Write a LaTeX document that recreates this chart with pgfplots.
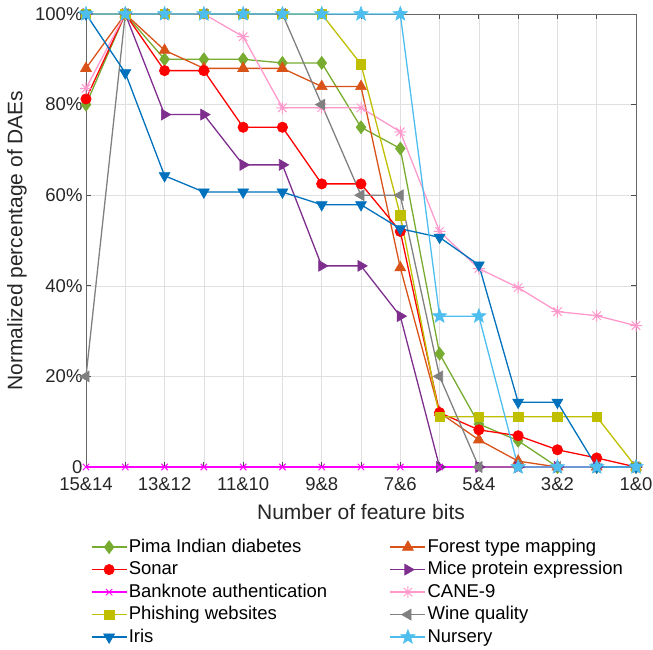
\documentclass[border=0pt]{standalone}
\usepackage{pgfplots}
\pgfplotsset{compat=1.18}
\usepackage{fontspec}
\setmainfont{Liberation Sans}
\usetikzlibrary{plotmarks}
\definecolor{cpima}{HTML}{77AC30}
\definecolor{cforest}{HTML}{D95319}
\definecolor{csonar}{HTML}{FF0000}
\definecolor{cmice}{HTML}{7E2F8E}
\definecolor{cbank}{HTML}{FF00FF}
\definecolor{ccane}{HTML}{FF99CC}
\definecolor{cphish}{HTML}{BFBF00}
\definecolor{cwine}{HTML}{808080}
\definecolor{ciris}{HTML}{0072BD}
\definecolor{cnurs}{HTML}{4DBEEE}
\pgfdeclareplotmark{pentastar}{%
  \pgfpathmoveto{\pgfqpointpolar{90}{\pgfplotmarksize}}%
  \pgfpathlineto{\pgfqpointpolar{126}{0.42\pgfplotmarksize}}%
  \pgfpathlineto{\pgfqpointpolar{162}{\pgfplotmarksize}}%
  \pgfpathlineto{\pgfqpointpolar{198}{0.42\pgfplotmarksize}}%
  \pgfpathlineto{\pgfqpointpolar{234}{\pgfplotmarksize}}%
  \pgfpathlineto{\pgfqpointpolar{270}{0.42\pgfplotmarksize}}%
  \pgfpathlineto{\pgfqpointpolar{306}{\pgfplotmarksize}}%
  \pgfpathlineto{\pgfqpointpolar{342}{0.42\pgfplotmarksize}}%
  \pgfpathlineto{\pgfqpointpolar{18}{\pgfplotmarksize}}%
  \pgfpathlineto{\pgfqpointpolar{54}{0.42\pgfplotmarksize}}%
  \pgfpathclose
  \pgfusepathqfillstroke}
\pgfdeclareplotmark{aster8}{%
  \pgfpathmoveto{\pgfqpoint{-\pgfplotmarksize}{0pt}}%
  \pgfpathlineto{\pgfqpoint{\pgfplotmarksize}{0pt}}%
  \pgfpathmoveto{\pgfqpoint{0pt}{-\pgfplotmarksize}}%
  \pgfpathlineto{\pgfqpoint{0pt}{\pgfplotmarksize}}%
  \pgfpathmoveto{\pgfqpoint{-0.707\pgfplotmarksize}{-0.707\pgfplotmarksize}}%
  \pgfpathlineto{\pgfqpoint{0.707\pgfplotmarksize}{0.707\pgfplotmarksize}}%
  \pgfpathmoveto{\pgfqpoint{-0.707\pgfplotmarksize}{0.707\pgfplotmarksize}}%
  \pgfpathlineto{\pgfqpoint{0.707\pgfplotmarksize}{-0.707\pgfplotmarksize}}%
  \pgfusepathqstroke}
\begin{document}
\begin{tikzpicture}
\begin{axis}[
  at={(0,0)}, anchor=south west,
  scale only axis, width=550pt, height=453pt,
  xmin=0, xmax=14, ymin=0, ymax=100,
  xtick={0,...,14},
  xticklabels={15\&14,,13\&12,,11\&10,,9\&8,,7\&6,,5\&4,,3\&2,,1\&0},
  ytick={0,20,40,60,80,100},
  yticklabels={0,20\%,40\%,60\%,80\%,100\%},
  tick align=inside, major tick length=5pt,
  grid=major, major grid style={color=black!12, line width=0.6pt},
  axis line style={black!60, line width=0.8pt},
  tick style={black!70, line width=0.8pt},
  ticklabel style={font=\fontsize{18.5}{22}\selectfont, text=black!85},
  xticklabel style={yshift=-7pt},
  xlabel={Number of feature bits},
  ylabel={Normalized percentage of DAEs},
  label style={font=\fontsize{21}{25}\selectfont, text=black!85},
  xlabel style={at={(axis description cs:0.5,-0.0993)}, anchor=center},
  ylabel style={at={(axis description cs:-0.1255,0.5)}, anchor=center},
  clip=false,
  legend columns=2,
  legend cell align=left,
  legend style={draw=none, fill=none, at={(0.494,-0.152)}, anchor=north,
    font=\fontsize{18.5}{22}\selectfont, inner sep=0pt, outer sep=0pt,
    nodes={inner xsep=1.5pt, inner ysep=2.25pt, text height=14pt, text depth=4pt},
    /tikz/every even column/.append style={column sep=61pt}},
  legend image code/.code={\draw[mark repeat=2,mark phase=2] plot coordinates {(0pt,0pt)(17.5pt,0pt)(35pt,0pt)};},
  every axis plot/.append style={line width=1.3pt},
]
\addplot[color=cpima, mark=diamond*, mark size=6.5pt, mark options={solid, fill=cpima, line width=0.6pt}]
  coordinates {(0,80)(1,100)(2,90)(3,90)(4,90)(5,89.2)(6,89.2)(7,75)(8,70.3)(9,25)(10,9.5)(11,5.8)(12,0)(13,0)(14,0)};
\addlegendentry{Pima Indian diabetes}
\addplot[color=cforest, mark=triangle*, mark size=6.3pt, mark options={solid, fill=cforest, line width=0.6pt}]
  coordinates {(0,88)(1,100)(2,92)(3,88)(4,88)(5,88)(6,84)(7,84)(8,44)(9,12)(10,6)(11,1.3)(12,0)(13,0)(14,0)};
\addlegendentry{Forest type mapping}
\addplot[color=csonar, mark=*, mark size=5.2pt, mark options={solid, fill=csonar, line width=0.6pt}]
  coordinates {(0,81.25)(1,100)(2,87.5)(3,87.5)(4,75)(5,75)(6,62.5)(7,62.5)(8,52)(9,12)(10,8.2)(11,6.9)(12,3.8)(13,2)(14,0)};
\addlegendentry{Sonar}
\addplot[color=cmice, mark=triangle*, mark size=6.3pt, mark options={solid, fill=cmice, rotate=-90, line width=0.6pt}]
  coordinates {(0,100)(1,100)(2,77.8)(3,77.8)(4,66.7)(5,66.7)(6,44.4)(7,44.4)(8,33.3)(9,0)(10,0)(11,0)(12,0)(13,0)(14,0)};
\addlegendentry{Mice protein expression}
\addplot[color=cbank, mark=x, mark size=4.5pt, mark options={solid, line width=1pt}]
  coordinates {(0,0)(1,0)(2,0)(3,0)(4,0)(5,0)(6,0)(7,0)(8,0)(9,0)(10,0)(11,0)(12,0)(13,0)(14,0)};
\addlegendentry{Banknote authentication}
\addplot[color=ccane, mark=aster8, mark size=6pt, mark options={solid, line width=1pt}]
  coordinates {(0,83.6)(1,100)(2,100)(3,100)(4,95)(5,79.3)(6,79.3)(7,79.3)(8,74)(9,52)(10,43.8)(11,39.6)(12,34.3)(13,33.4)(14,31.2)};
\addlegendentry{CANE-9}
\addplot[color=cphish, mark=square*, mark size=4.7pt, mark options={solid, fill=cphish, line width=0.6pt}]
  coordinates {(0,100)(1,100)(2,100)(3,100)(4,100)(5,100)(6,100)(7,88.9)(8,55.6)(9,11.1)(10,11.1)(11,11.1)(12,11.1)(13,11.1)(14,0)};
\addlegendentry{Phishing websites}
\addplot[color=cwine, mark=triangle*, mark size=6.3pt, mark options={solid, fill=cwine, rotate=90, line width=0.6pt}]
  coordinates {(0,20)(1,100)(2,100)(3,100)(4,100)(5,100)(6,80)(7,60)(8,60)(9,20)(10,0)(11,0)(12,0)(13,0)(14,0)};
\addlegendentry{Wine quality}
\addplot[color=ciris, mark=triangle*, mark size=6.3pt, mark options={solid, fill=ciris, rotate=180, line width=0.6pt}]
  coordinates {(0,100)(1,87)(2,64.3)(3,60.7)(4,60.7)(5,60.7)(6,57.9)(7,57.9)(8,52.6)(9,50.7)(10,44.6)(11,14.3)(12,14.3)(13,0)(14,0)};
\addlegendentry{Iris}
\addplot[color=cnurs, mark=pentastar, mark size=7.5pt, mark options={solid, fill=cnurs, line width=0.6pt}]
  coordinates {(0,100)(1,100)(2,100)(3,100)(4,100)(5,100)(6,100)(7,100)(8,100)(9,33.3)(10,33.3)(11,0)(12,0)(13,0)(14,0)};
\addlegendentry{Nursery}
\end{axis}
\pgfresetboundingbox
\path[use as bounding box] (-86pt,-182pt) rectangle (567pt,467pt);
\end{tikzpicture}
\end{document}
